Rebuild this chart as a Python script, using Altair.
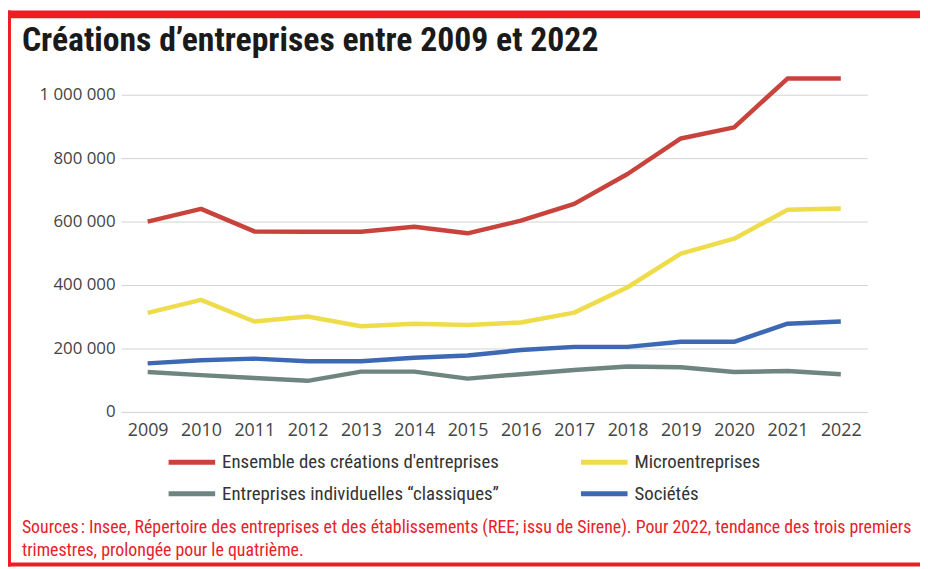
import altair as alt
import pandas as pd

years = [str(y) for y in range(2009, 2023)]
series_names = [
    "Ensemble des créations d'entreprises",
    "Microentreprises",
    "Entreprises individuelles “classiques”",
    "Sociétés",
]
ensemble = [600000, 640000, 569000, 568000, 568000, 584000, 563000, 603000, 656000, 750000, 862000, 897000, 1051000, 1051000]
micro = [312000, 353000, 285000, 301000, 270000, 278000, 274000, 282000, 313000, 393000, 499000, 546000, 637000, 641000]
classiques = [126000, 116000, 107000, 98000, 127000, 127000, 105000, 119000, 132000, 143000, 141000, 126000, 129000, 119000]
societes = [153000, 163000, 168000, 160000, 160000, 171000, 178000, 195000, 205000, 205000, 221000, 221000, 278000, 285000]
colors = ["#C8433B", "#EEDC4A", "#6F8580", "#3D68B4"]

title_text = "Créations d’entreprises entre 2009 et 2022"
source_lines = [
    "Sources\u202f: Insee, Répertoire des entreprises et des établissements (REE; issu de Sirene). Pour 2022, tendance des trois premiers",
    "trimestres, prolongée pour le quatrième.",
]

rows = []
for name, vals in zip(series_names, [ensemble, micro, classiques, societes]):
    for y, v in zip(years, vals):
        rows.append({"year": y, "series": name, "value": v})
df = pd.DataFrame(rows)

NARROW = "'Liberation Sans Narrow', 'Roboto Condensed', 'Open Sans', sans-serif"
W, H = 753, 352

lines = alt.Chart(df).mark_line(strokeWidth=4.5, strokeCap="butt", strokeJoin="round").encode(
    x=alt.X("year:O", scale=alt.Scale(type="point", padding=0.5),
            axis=alt.Axis(title=None, labelAngle=0, domain=False, ticks=False, grid=False,
                          labelPadding=10, labelFont="Open Sans", labelFontSize=18,
                          labelColor="#444444")),
    y=alt.Y("value:Q", scale=alt.Scale(domain=[0, 1100000], nice=False),
            axis=alt.Axis(title=None, values=[0, 200000, 400000, 600000, 800000, 1000000],
                          labelExpr="replace(format(datum.value, ','), regexp(',', 'g'), ' ')",
                          domain=False, ticks=False, grid=True, gridColor="#d2d2d2",
                          gridWidth=1, labelPadding=6, labelFont="Open Sans",
                          labelFontSize=17, labelColor="#444444")),
    color=alt.Color("series:N", scale=alt.Scale(domain=series_names, range=colors),
                    legend=alt.Legend(title=None, orient="none", legendX=57, legendY=388,
                                      columns=2, direction="horizontal",
                                      columnPadding=72, rowPadding=7,
                                      symbolType="M-2,0H2", symbolSize=552,
                                      symbolStrokeWidth=5, labelOffset=16,
                                      labelFont=NARROW, labelFontSize=19,
                                      labelColor="#333333", labelLimit=400)),
    order=alt.Order("year:O"),
)

frame_df = pd.DataFrame({"k": [0]})
top_bar = alt.Chart(frame_df).mark_rect(color="#EE1D24").encode(
    x=alt.value(-114), x2=alt.value(806), y=alt.value(-53), y2=alt.value(-45))
left_bar = alt.Chart(frame_df).mark_rect(color="#EE1D24").encode(
    x=alt.value(-114), x2=alt.value(-111), y=alt.value(-53), y2=alt.value(508))
bottom_bar = alt.Chart(frame_df).mark_rect(color="#EE1D24").encode(
    x=alt.value(-114), x2=alt.value(806), y=alt.value(504), y2=alt.value(508))

title = alt.Chart(pd.DataFrame({"t": [title_text]})).mark_text(
    align="left", baseline="alphabetic", font=NARROW, fontSize=34, fontWeight="bold",
    color="#1a1a1a").encode(text="t:N", x=alt.value(-100), y=alt.value(-12))

src_df = pd.DataFrame({"t": source_lines, "i": [0, 1]})
source = alt.Chart(src_df).mark_text(
    align="left", baseline="middle", font=NARROW, fontSize=18, color="#E8212A").encode(
    text="t:N", x=alt.value(-100),
    y=alt.Y("i:O", scale=alt.Scale(type="point", range=[469, 492], padding=0), axis=None))

chart = alt.layer(top_bar, left_bar, bottom_bar, lines, title, source).resolve_scale(
    y="independent").properties(
    width=W, height=H,
    autosize=alt.AutoSizeParams(type="none"),
    padding={"left": 114, "top": 53, "right": 53, "bottom": 156},
    background="white",
).configure_view(stroke=None)

chart.save("out.html", embed_options={"renderer": "svg", "actions": False})
